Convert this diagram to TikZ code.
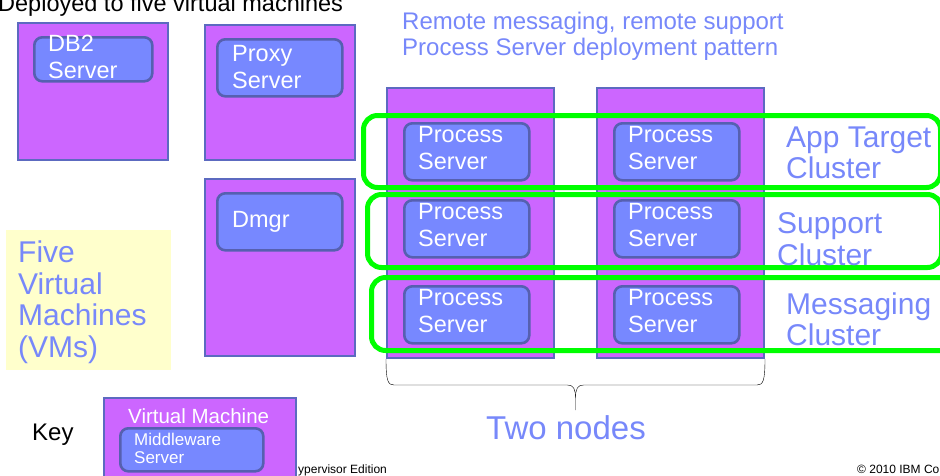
\documentclass[tikz,border=0pt]{standalone}
\usepackage{fontspec}
\setmainfont{Liberation Sans}
\usetikzlibrary{positioning}
\usetikzlibrary{calc}

\definecolor{vmfill}{RGB}{204,102,255}
\definecolor{vmline}{RGB}{92,106,192}
\definecolor{srvfill}{RGB}{119,136,255}
\definecolor{srvline}{RGB}{86,96,176}
\definecolor{ibmblue}{RGB}{119,136,250}
\definecolor{notepad}{RGB}{255,255,204}
\definecolor{clgreen}{RGB}{0,255,0}

\newcommand\fsz[2]{\fontsize{#1}{#2}\selectfont}

\begin{document}
\begin{tikzpicture}
 [ x=1pt, y=-1pt
 , vm/.style={draw=vmline, fill=vmfill, line width=2pt, anchor=north west, inner sep=0}
 , server/.style={draw=srvline, fill=srvfill, line width=2.6pt, rounded corners=8pt, anchor=north west, inner sep=0, minimum width=125, minimum height=57}
 , srvtext/.style={anchor=north west, inner sep=0, align=left, text=white, font=\fsz{23.5}{26.5}}
 , cluster/.style={draw=clgreen, line width=5pt, rounded corners=14pt, anchor=north west, inner sep=0, minimum height=72}
 , big/.style={anchor=north west, inner sep=0, align=left, text=ibmblue, font=\fsz{30}{31.5}}
 , small/.style={anchor=base west, inner sep=0, font=\fsz{12}{13}}
 ]
  \useasboundingbox (0,0) rectangle (940,475);

  % headings
  \node [anchor=north west, inner sep=0, font=\fsz{23.5}{26}] (title) at (-2,-5.8) {Deployed to five virtual machines};
  \node [anchor=north west, inner sep=0, align=left, text=ibmblue, font=\fsz{24}{26}] (pattern) at (402,11.8)
    {Remote messaging, remote support\\Process Server deployment pattern};

  % single virtual machines
  \node [vm, minimum width=150, minimum height=137] (db2vm) at (17,22) {};
  \node [server, minimum width=118, minimum height=44] (db2) at (33,36) {};
  \node [srvtext] (db2text) at ([shift={(15,-0.8)}]db2.north west) {DB2\\Server};

  \node [vm, minimum width=150, minimum height=135] (proxyvm) at (204,24) {};
  \node [server] (proxy) at (216,38) {};
  \node [srvtext] (proxytext) at ([shift={(16,7.2)}]proxy.north west) {Proxy\\Server};

  \node [vm, minimum width=150, minimum height=177] (dmgrvm) at (204,178) {};
  \node [server] (dmgr) at (216,192) {};
  \node [srvtext] (dmgrtext) at ([shift={(16,19.2)}]dmgr.north west) {Dmgr};

  \node [fill=notepad, anchor=north west, inner sep=0, minimum width=165, minimum height=140] (note) at (6,230) {};
  \node [big, font=\fsz{30}{31.7}] (notetext) at (18,240.5) {Five\\Virtual\\Machines\\(VMs)};

  % the two nodes
  \node [vm, minimum width=167, minimum height=270] (node1) at (386,87) {};
  \node [vm, minimum width=167, minimum height=270] (node2) at (596,87) {};

  \node [server] (ps11) at (403,122) {};
  \node [server] (ps12) at (613,122) {};
  \node [server] (ps21) at (403,199) {};
  \node [server] (ps22) at (613,199) {};
  \node [server] (ps31) at (403,285) {};
  \node [server] (ps32) at (613,285) {};
  \node [srvtext] (ps11text) at ([shift={(15,4.2)}]ps11.north west) {Process\\Server};
  \node [srvtext] (ps12text) at ([shift={(15,4.2)}]ps12.north west) {Process\\Server};
  \node [srvtext] (ps21text) at ([shift={(15,4.2)}]ps21.north west) {Process\\Server};
  \node [srvtext] (ps22text) at ([shift={(15,4.2)}]ps22.north west) {Process\\Server};
  \node [srvtext] (ps31text) at ([shift={(15,4.2)}]ps31.north west) {Process\\Server};
  \node [srvtext] (ps32text) at ([shift={(15,4.2)}]ps32.north west) {Process\\Server};

  % clusters
  \node [cluster, minimum width=577] (apptarget) at (361,113) {};
  \node [cluster, minimum width=574, minimum height=73] (support) at (365,192) {};
  \node [cluster, minimum width=600, minimum height=73] (messaging) at (369,275) {};
  \node [big] (apptext) at (786,126.5) {App Target\\Cluster};
  \node [big] (supporttext) at (777,212.5) {Support\\Cluster};
  \node [big] (msgtext) at (786,292.5) {Messaging\\Cluster};

  % brace under the nodes
  \coordinate (tip) at ($(node1.south west)!0.5!(node2.south east)+(0,51)$);
  \draw [thin] (node1.south west) .. controls +(0,22) and +(-6,0) .. +(8,26)
    -- ($(tip)+(-8,-25)$) .. controls +(6,0) and +(0,-9) .. ($(tip)+(0,-12)$) -- (tip);
  \draw [thin] (node2.south east) .. controls +(0,22) and +(6,0) .. +(-8,26)
    -- ($(tip)+(8,-25)$) .. controls +(-6,0) and +(0,-9) .. ($(tip)+(0,-12)$);
  \node [anchor=base west, inner sep=0, text=ibmblue, font=\fsz{33}{35}] (twonodes) at (486,439) {Two nodes};

  % key
  \node [anchor=base west, inner sep=0, font=\fsz{24}{26}] (key) at (32,440) {Key};
  \node [vm, minimum width=192, minimum height=100] (keyvm) at (103,397) {};
  \node [anchor=north west, inner sep=0, text=white, font=\fsz{20.5}{22}] (keyvmtext) at ([shift={(25,11.3)}]keyvm.north west) {Virtual Machine};
  \node [server, minimum width=143, minimum height=43] (keysrv) at (119,427) {};
  \node [srvtext, font=\fsz{17}{18}] (keysrvtext) at ([shift={(15,5.8)}]keysrv.north west) {Middleware\\Server};

  % footer
  \node [small] (edition) at (298,473) {ypervisor Edition};
  \node [small] (copyright) at (857,473) {© 2010 IBM Co};
\end{tikzpicture}
\end{document}
